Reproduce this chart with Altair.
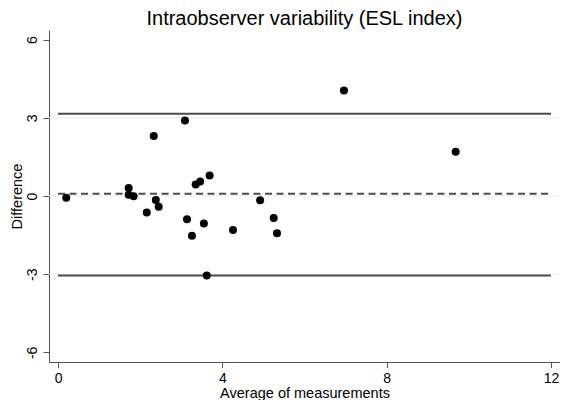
import altair as alt
import pandas as pd

# Bland-Altman data
avg = [0.20, 1.72, 1.72, 1.84, 2.16, 2.33, 2.38, 2.45, 3.09, 3.14, 3.26,
       3.35, 3.46, 3.55, 3.69, 3.62, 4.26, 4.92, 5.25, 5.33, 6.96, 9.68]
diff = [-0.07, 0.31, 0.05, -0.01, -0.63, 2.30, -0.15, -0.41, 2.90, -0.89, -1.53,
        0.44, 0.56, -1.06, 0.79, -3.05, -1.30, -0.16, -0.84, -1.43, 4.05, 1.70]

limits = [3.16, -3.05]       # limits of agreement
mean_diff = [0.09]           # mean difference
grid_vals = [-3, 0, 3]
x_ticks = [0, 4, 8, 12]
y_ticks = [-6, -3, 0, 3, 6]
x_span = [0, 12]

W, H = 511, 332
FONT = "Liberation Sans"

pts = pd.DataFrame({"avg": avg, "diff": diff})
lim_df = pd.DataFrame({"diff": limits, "avg": x_span[0], "avg2": x_span[1]})
mean_df = pd.DataFrame({"diff": mean_diff, "avg": x_span[0], "avg2": x_span[1]})
grid_df = pd.DataFrame({"diff": grid_vals})

xscale = alt.Scale(domain=[-0.22, 12.22], nice=False, zero=False)
yscale = alt.Scale(domain=[-6.37, 6.37], nice=False, zero=False)

x_axis = alt.Axis(values=x_ticks, title="Average of measurements", grid=False,
                  tickSize=5.5, labelPadding=14.8, labelBaseline="alphabetic",
                  labelFontSize=14, labelFont=FONT, labelColor="black",
                  labelExpr="datum.value",
                  titleFont=FONT, titleFontSize=14.5, titleFontWeight="normal",
                  titleColor="black", titleBaseline="alphabetic", titleY=35,
                  titleX=W / 2, titleAlign="center",
                  domainColor="#555555", tickColor="#555555", domainWidth=1, tickWidth=1)
y_axis = alt.Axis(values=y_ticks, title="Difference", grid=False,
                  tickSize=6, labelPadding=6.5, labelAngle=270, labelAlign="center",
                  labelBaseline="alphabetic", labelFontSize=14, labelFont=FONT,
                  labelColor="black", labelExpr="datum.value",
                  titleFont=FONT, titleFontSize=14.5, titleFontWeight="normal",
                  titleColor="black", titleAngle=270, titleBaseline="alphabetic",
                  titleAlign="center", titleX=-27.3, titleY=H / 2,
                  domainColor="#555555", tickColor="#555555", domainWidth=1, tickWidth=1)

X = alt.X("avg:Q", scale=xscale, axis=x_axis)
Y = alt.Y("diff:Q", scale=yscale, axis=y_axis)

grid = alt.Chart(grid_df).mark_rule(color="#E6EFEF", strokeWidth=1).encode(
    y=Y, x=alt.value(0), x2=alt.value(W),
)

lims = alt.Chart(lim_df).mark_rule(color="#4d4d4d", strokeWidth=2).encode(
    y=Y, x=X, x2="avg2:Q",
)

mean_line = alt.Chart(mean_df).mark_rule(color="#4d4d4d", strokeWidth=2,
                                         strokeDash=[7, 4.5]).encode(
    y=Y, x=X, x2="avg2:Q",
)

points = alt.Chart(pts).mark_circle(size=64, color="black", opacity=1).encode(
    x=X, y=Y,
)

chart = alt.layer(grid, lims, mean_line, points).properties(
    width=W, height=H,
    title=alt.TitleParams("Intraobserver variability (ESL index)", font=FONT,
                          fontSize=20, fontWeight="normal", color="black",
                          anchor="middle", offset=1),
    autosize=alt.AutoSizeParams(type="none"),
    padding={"left": 41, "top": 22, "right": 0, "bottom": 38},
).configure(background="white").configure_view(strokeWidth=0)

chart.save("out.html", embed_options={"renderer": "svg", "actions": False})
